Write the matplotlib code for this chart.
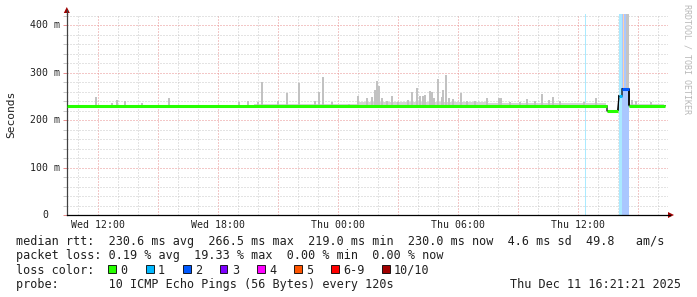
import matplotlib
matplotlib.use("Agg")
import matplotlib.pyplot as plt
from matplotlib.patches import Rectangle, Polygon
from matplotlib.ticker import FixedLocator, MultipleLocator, NullFormatter

W, H = 697, 297

# ---------------- data (time: hours since Wed 00:00, values: ms) ----------------
t_start, t_end, t_now = 10.45, 40.5, 40.35

x_tick_hours = [12, 18, 24, 30, 36]
x_tick_labels = ["Wed 12:00", "Wed 18:00", "Thu 00:00", "Thu 06:00", "Thu 12:00"]
y_tick_ms = [100, 200, 300, 400]
y_tick_labels = ["100 m", "200 m", "300 m", "400 m"]

# median rtt segments
median_start = [10.45, 37.45, 38.05, 38.20, 38.55]
median_end = [37.45, 37.98, 38.20, 38.55, 40.35]
median_ms = [230.0, 219.0, 250.0, 266.0, 230.0]
median_loss = [0, 0, 1, 2, 0]

# smoke spikes (top of the ping spread)
spike_hour = [11.90, 12.70, 12.95, 13.35, 14.20, 15.55, 19.05, 19.50,
              20.00, 20.20, 21.00, 21.45, 22.05, 22.85, 23.05, 23.25, 23.70,
              24.55, 25.00, 25.45, 25.70, 25.85, 25.95, 26.05, 26.20, 26.45,
              26.70, 27.00, 27.50, 27.70, 27.95, 28.10, 28.25, 28.35, 28.60,
              28.70, 28.80, 29.00, 29.20, 29.25, 29.40, 29.55, 29.75, 30.15,
              30.45, 30.85, 31.45, 32.05, 32.15, 32.60, 33.10, 33.45, 33.85,
              34.20, 34.55, 34.75, 35.10, 36.30, 36.90, 38.70, 38.90, 39.65]
spike_top = [249, 236, 242, 239, 235, 247, 238, 241,
             238, 281, 240, 257, 277, 240, 260, 291, 238,
             233, 251, 247, 249, 263, 282, 271, 247, 239,
             251, 237, 243, 258, 267, 250, 250, 253, 262,
             260, 246, 286, 249, 264, 294, 247, 244, 257,
             240, 241, 247, 246, 247, 238, 238, 244, 241,
             254, 243, 249, 240, 237, 246, 243, 240, 238]

# low smoke band just above the median
band_start = [19.8, 25.0, 31.5, 38.6]
band_end = [25.0, 31.5, 37.4, 40.3]
band_top = [234, 238, 236, 234]

# dark (dense) smoke
dark_start = [37.975, 38.50]
dark_end = [38.06, 38.58]
dark_low = [219, 232]
dark_high = [252, 266]

# loss background bands
loss_start = [36.33, 38.05, 38.20]
loss_end = [36.38, 38.20, 38.55]
loss_level = [1, 1, 2]

# smoke reaching the top during the loss event
top_smoke_start = [38.40]
top_smoke_end = [38.55]
top_smoke_low = [266]
orange_hour = [38.27]
orange_low = [266]

loss_names = ["0", "1", "2", "3", "4", "5", "6-9", "10/10"]
loss_colors = ["#26ff00", "#00b8ff", "#0059ff", "#7e00ff", "#ff00ff",
               "#ff5500", "#ff0000", "#a10000"]
loss_bg = {1: "#aaeaff", 2: "#aac7ff"}

stats_rtt = "median rtt:  230.6 ms avg  266.5 ms max  219.0 ms min  230.0 ms now  4.6 ms sd  49.8   am/s"
stats_loss = "packet loss: 0.19 % avg  19.33 % max  0.00 % min  0.00 % now"
probe_text = "probe:       10 ICMP Echo Pings (56 Bytes) every 120s"
date_text = "Thu Dec 11 16:21:21 2025"

# ---------------- figure ----------------
MONO = "DejaVu Sans Mono"
plt.rcParams["font.family"] = [MONO]

fig = plt.figure(figsize=(W / 100, H / 100), dpi=100)
fig.patch.set_facecolor("white")

L, R, T, B = 67, 668, 14, 215
ax = fig.add_axes([L / W, 1 - B / H, (R - L) / W, (B - T) / H])
ax.set_xlim(t_start, t_end)
ax.set_ylim(0, 423.2)
ax.set_facecolor("white")

# grid
ax.set_axisbelow(True)
ax.xaxis.set_major_locator(FixedLocator([h for h in range(12, 41, 3)]))
ax.xaxis.set_minor_locator(MultipleLocator(1))
ax.yaxis.set_major_locator(FixedLocator([0] + y_tick_ms))
ax.yaxis.set_minor_locator(MultipleLocator(20))
ax.grid(which="minor", color="#c8c8c8", linestyle=(0, (1, 2)), linewidth=0.72)
ax.grid(which="major", color="#e89090", linestyle=(0, (1, 2)), linewidth=0.72)
ax.xaxis.set_major_formatter(NullFormatter())
ax.yaxis.set_major_formatter(NullFormatter())
ax.tick_params(axis="x", which="both", length=0)
ax.tick_params(axis="y", which="major", length=3, width=0.72, color="#e89090")
ax.tick_params(axis="y", which="minor", length=3, width=0.72, color="#c8c8c8")

# x labels
for h, lab in zip(x_tick_hours, x_tick_labels):
    ax.annotate(lab, xy=(h, 0), xycoords=("data", "axes fraction"),
                xytext=(0, -10), textcoords="offset pixels",
                ha="center", va="center", fontsize=7.1, color="#202020")
# y labels
for v, lab in zip(y_tick_ms, y_tick_labels):
    ax.annotate(lab, xy=(0, v), xycoords=("axes fraction", "data"),
                xytext=(-7, 0), textcoords="offset pixels",
                ha="right", va="center", fontsize=7.1, color="#202020")
ax.annotate("0", xy=(0, 0), xycoords=("axes fraction", "data"),
            xytext=(-19, 0), textcoords="offset pixels",
            ha="right", va="center", fontsize=7.1, color="#202020")

# loss background bands
for s, e, lv in zip(loss_start, loss_end, loss_level):
    ax.bar(s, 423.2, width=e - s, bottom=0, align="edge",
           color=loss_bg[lv], linewidth=0, zorder=1)

# smoke
for s, e, top in zip(band_start, band_end, band_top):
    ax.bar(s, top - 229, width=e - s, bottom=229, align="edge",
           color="#d4d4d4", linewidth=0, zorder=2)
ax.bar(spike_hour, [t - 229 for t in spike_top], width=0.075, bottom=229,
       color="#c2c2c2", linewidth=0, zorder=2)
for s, e, lo in zip(top_smoke_start, top_smoke_end, top_smoke_low):
    ax.bar(s, 423.2 - lo, width=e - s, bottom=lo, align="edge",
           color="#c4c4c4", linewidth=0, zorder=2)
for h, lo in zip(orange_hour, orange_low):
    ax.bar(h, 423.2 - lo, width=0.05, bottom=lo, color="#ffd2a8",
           linewidth=0, zorder=2)
for s, e, lo, hi in zip(dark_start, dark_end, dark_low, dark_high):
    ax.bar(s, hi - lo, width=e - s, bottom=lo, align="edge",
           color="#383838", linewidth=0, zorder=3)

# median: thin black step line, then loss-coloured segments
xs, ys = [], []
for s, e, v in zip(median_start, median_end, median_ms):
    xs += [s, e]
    ys += [v, v]
ax.plot(xs, ys, color="#000000", linewidth=0.9, zorder=4)
for s, e, v, lv in zip(median_start, median_end, median_ms, median_loss):
    ax.plot([s, e], [v, v], color=loss_colors[lv], linewidth=2.2,
            solid_capstyle="butt", zorder=5)

# spines
for sp in ("top", "right"):
    ax.spines[sp].set_visible(False)
ax.spines["left"].set_color("#404040")
ax.spines["left"].set_linewidth(0.9)
ax.spines["bottom"].set_color("#000000")
ax.spines["bottom"].set_linewidth(0.9)


def P(x, y):
    return (x / W, 1 - y / H)


# axis arrows
fig.add_artist(plt.Line2D([P(L, 0)[0], P(L, 0)[0]], [P(0, T)[1], P(0, 10)[1]],
                          color="#404040", linewidth=0.9, transform=fig.transFigure))
fig.add_artist(plt.Line2D([P(R, 0)[0], P(670, 0)[0]], [P(0, B)[1], P(0, B)[1]],
                          color="#000000", linewidth=0.9, transform=fig.transFigure))
fig.add_artist(Polygon([P(63.8, 13), P(69.8, 13), P(66.8, 7)], closed=True,
                       facecolor="#a00000", edgecolor="none", transform=fig.transFigure))
fig.add_artist(Polygon([P(668, 212), P(668, 218), P(674, 215)], closed=True,
                       facecolor="#a00000", edgecolor="none", transform=fig.transFigure))

# y label and watermark
fig.text(*P(11, 114.5), "Seconds", rotation=90, ha="center", va="center",
         fontsize=8.1, color="#202020")
fig.text(*P(687, 4), "RRDTOOL / TOBI OETIKER", rotation=270, ha="center",
         va="top", fontsize=6.0, color="#b8b8b8")

# legend / stats
FS = 8.5
fig.text(*P(16, 245), stats_rtt, ha="left", va="baseline", fontsize=FS, color="#202020")
fig.text(*P(16, 259.5), stats_loss, ha="left", va="baseline", fontsize=FS, color="#202020")
fig.text(*P(16, 273.5), "loss color:", ha="left", va="baseline", fontsize=FS, color="#202020")
fig.text(*P(16, 288), probe_text, ha="left", va="baseline", fontsize=FS, color="#202020")
fig.text(*P(681, 288), date_text, ha="right", va="baseline", fontsize=FS, color="#202020")

sq_x = [108, 146, 183, 220, 257, 294, 331, 382]
for x0, name, col in zip(sq_x, loss_names, loss_colors):
    x_, y_ = P(x0, 272.5)
    fig.add_artist(Rectangle((x_, y_), 7.5 / W, 7.5 / H, facecolor=col,
                             edgecolor="#000000", linewidth=0.6,
                             transform=fig.transFigure))
    fig.text(*P(x0 + 12, 273.5), name, ha="left", va="baseline",
             fontsize=FS, color="#202020")

fig.savefig("out.png", dpi=100, facecolor="white")
